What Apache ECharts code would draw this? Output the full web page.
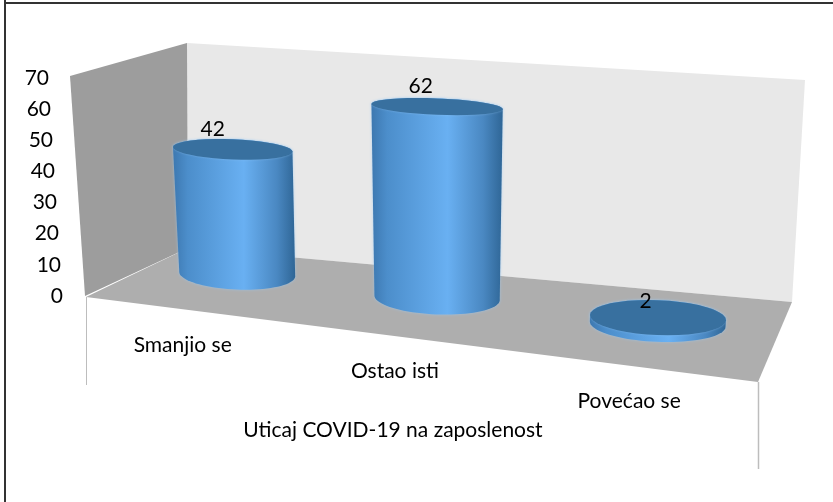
<!DOCTYPE html>
<html>
<head>
<meta charset="utf-8">
<style>html,body{margin:0;background:#fff}#chart{width:833px;height:502px}</style>
<script src="https://cdn.jsdelivr.net/npm/echarts@6/dist/echarts.min.js"></script>
</head>
<body>
<div id="chart"></div>
<script>
const categories = ['Smanjio se', 'Ostao isti', 'Povećao se'];
const values = [42, 62, 2];
const tickLabels = [0, 10, 20, 30, 40, 50, 60, 70];
const axisTitle = 'Uticaj COVID-19 na zaposlenost';

const FONT = 'Lato';
const FONT_SIZE = 21;
const gridLeft = 137, gridWidth = 638, zeroY = 296, topY = 78;
const WEIGHT = 0.888; // perspective of the floor, back is left

// depth of a point on the floor, 0..1 left to right
const denom = u => 1 + (WEIGHT - 1) * u;
const warpX = x => {
  let u = (x - gridLeft) / gridWidth;
  return (gridLeft * (1 - u) + (gridLeft + gridWidth) * WEIGHT * u) / denom(u);
};
const depth = x => 1 / denom((x - gridLeft) / gridWidth);
const ryAt = y => 3.5 + 0.044 * y;

// points of a tilted ellipse between two angles
const arc = (cx, cy, rx, ry, from, to, tilt) => {
  let pts = [];
  for (let i = 0; i <= 40; i++) {
    let a = from + (to - from) * i / 40;
    let px = rx * Math.cos(a), py = ry * Math.sin(a);
    pts.push([cx + px * Math.cos(tilt) - py * Math.sin(tilt), cy + px * Math.sin(tilt) + py * Math.cos(tilt)]);
  }
  return pts;
};

const renderCylinder = (params, api) => {
  let i = api.value(0);
  let base = api.coord([i, 0]);
  let x = warpX(base[0]);
  let k = depth(base[0]);
  let h = (base[1] - api.coord([i, api.value(1)])[1]) * k * 0.935;
  let bx = x + 4 * Math.max(0, (437 - x) / 204), by = 274 + 0.119 * (bx - 237);
  let tx = bx + (bx - 437) * 0.00018 * h, ty = by - h;
  let rxB = 58 + 0.0235 * (bx - 237), rxT = rxB * (1 + 0.00025 * h);
  let tilt = 0.04;
  let ryB = ryAt(by), ryT = ryAt(ty);
  // the body runs along the near half of the base
  let body = arc(bx, by, rxB, ryB, 0, Math.PI, tilt).concat(arc(tx, ty, rxT, ryT, Math.PI, 2 * Math.PI, tilt));
  return {
    type: 'group',
    children: [
      {
        type: 'polygon',
        shape: {points: body},
        style: {
          fill: new echarts.graphic.LinearGradient(0, 0, 1, 0, [
            {offset: 0, color: '#3d78b0'},
            {offset: 0.12, color: '#4c8ecb'},
            {offset: 0.58, color: '#69b0f2'},
            {offset: 0.85, color: '#4a88c2'},
            {offset: 1, color: '#2f6696'}
          ]),
          shadowBlur: 3,
          shadowColor: 'rgba(150,200,245,0.7)'
        }
      },
      {
        type: 'polygon',
        shape: {points: arc(tx, ty, rxT, ryT, 0, 2 * Math.PI, tilt)},
        style: {fill: '#38709f', shadowBlur: 2, shadowColor: 'rgba(150,200,245,0.6)'}
      },
      {
        type: 'text',
        style: {
          text: String(api.value(1)),
          x: tx - 20 + (bx - 237) * 0.018,
          y: ty - 16 - Math.min(4, h / 20),
          align: 'center',
          verticalAlign: 'middle',
          fill: '#000',
          font: FONT_SIZE + 'px ' + FONT
        },
        z2: 10
      },
      {
        type: 'text',
        style: {
          text: categories[i],
          x: bx - 54.5 + (bx - 237) * 0.0617,
          y: by + 71 + (bx - 237) * 0.0143,
          align: 'center',
          verticalAlign: 'middle',
          fill: '#000',
          font: FONT_SIZE + 'px ' + FONT
        }
      }
    ]
  };
};

// the tick labels step along the slanted wall
const tickRich = {};
tickLabels.forEach(t => {
  tickRich['t' + t] = {fontFamily: FONT, fontSize: FONT_SIZE, color: '#000', padding: [0, 2 * t / 10, 0, 0]};
});

const wall = (points, fill) => ({type: 'polygon', shape: {points}, style: {fill}, z: 0});
const rule = (x1, y1, x2, y2, stroke, lineWidth) => ({
  type: 'line', shape: {x1, y1, x2, y2}, style: {stroke, lineWidth}, z: 0
});

const myChart = echarts.init(document.getElementById('chart'), null, {renderer: 'canvas'});
myChart.setOption({
  animation: false,
  backgroundColor: '#fff',
  grid: {left: gridLeft, width: gridWidth, top: topY, height: zeroY - topY},
  xAxis: {
    type: 'category',
    data: categories,
    axisLine: {show: false},
    axisTick: {show: false},
    axisLabel: {show: false},
    name: axisTitle,
    nameLocation: 'middle',
    nameGap: 124,
    nameTextStyle: {fontFamily: FONT, fontSize: FONT_SIZE, color: '#000', padding: [0, 126, 0, 0]}
  },
  yAxis: {
    type: 'value',
    min: 0,
    max: 70,
    interval: 10,
    axisLine: {show: false},
    axisTick: {show: false},
    splitLine: {show: false},
    axisLabel: {
      margin: 74,
      formatter: v => `{t${v}|${v}}`,
      rich: tickRich
    }
  },
  graphic: [
    wall([[187, 43], [805, 80], [792, 302], [188, 248]], '#e8e8e8'),
    wall([[70, 76], [187, 43], [188, 248], [85, 296]], '#9d9d9d'),
    wall([[86, 297], [188, 248], [792, 302], [758, 382]], '#aeaeae'),
    rule(86.5, 297, 86.5, 385, '#bdbdbd', 1),
    rule(758.5, 382, 758.5, 469, '#bdbdbd', 1.5),
    rule(5, 0, 5, 502, '#333', 2),
    rule(5, 3, 833, 3, '#333', 2)
  ],
  series: [{
    type: 'custom',
    renderItem: renderCylinder,
    data: values.map((v, i) => [i, v]),
    encode: {x: 0, y: 1},
    clip: false
  }]
});
</script>
</body>
</html>
